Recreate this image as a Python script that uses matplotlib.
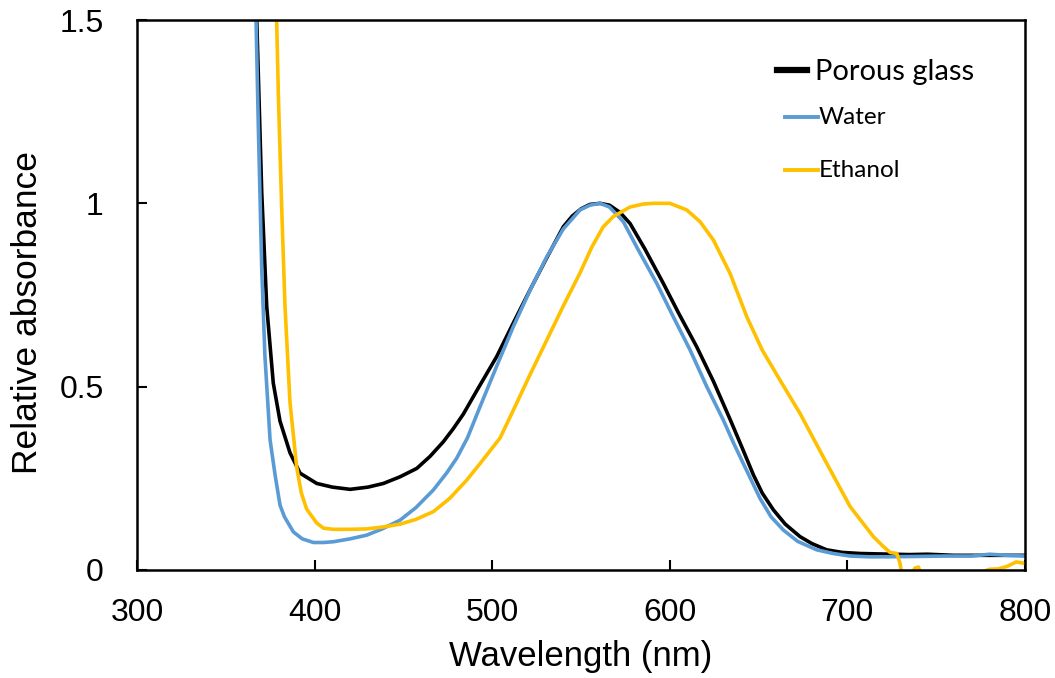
import matplotlib
matplotlib.use("Agg")
from matplotlib import pyplot as plt
from matplotlib.lines import Line2D

# Porous glass (black)
glass_nm = [366, 367.4, 370.2, 373, 376.7, 380.5, 386.1, 391.8, 401.2, 410, 420, 430,
            438.7, 448, 457.5, 465, 472.5, 478, 483.7, 492, 502.5, 512, 521.3, 530, 540,
            545, 550, 555, 560.7, 566, 572, 577.6, 586, 596.3, 605, 615.1, 624.5, 634,
            641, 647, 652, 658.3, 665, 673.3, 680, 688.3, 697, 707.1, 716, 725.7,
            735, 745, 760, 780, 800]
glass_abs = [1.6, 1.5, 1.03, 0.72, 0.51, 0.406, 0.32, 0.264, 0.236, 0.226, 0.220, 0.226,
             0.236, 0.254, 0.277, 0.31, 0.35, 0.385, 0.425, 0.495, 0.582, 0.675, 0.764, 0.845,
             0.936, 0.965, 0.985, 0.997, 1.0, 0.995, 0.975, 0.945, 0.875, 0.782, 0.70, 0.609,
             0.515, 0.41, 0.33, 0.26, 0.21, 0.164, 0.125, 0.091, 0.072, 0.055, 0.048, 0.045,
             0.044, 0.043, 0.042, 0.043, 0.040, 0.040, 0.040]

# Water (blue)
water_nm = [366, 367, 368.3, 370.2, 372, 374.9, 377.7, 380.5, 383, 388, 393, 399.3, 405,
            410.5, 420, 429.3, 438, 448.1, 457, 466.8, 474.4, 480, 486, 493.1, 502, 511.9,
            521, 530.7, 540, 549.4, 555, 560.7, 566, 573.8, 582, 592.6, 602, 611.4, 620.8,
            630.1, 636, 641.4, 650.8, 657, 663.9, 672, 682.7, 692, 701.5, 712, 722.1, 740,
            755, 770, 780, 790, 800]
water_abs = [1.6, 1.5, 1.208, 0.824, 0.584, 0.355, 0.26, 0.177, 0.145, 0.104, 0.085, 0.075,
             0.075, 0.077, 0.085, 0.095, 0.112, 0.136, 0.17, 0.218, 0.265, 0.305, 0.36, 0.445,
             0.55, 0.664, 0.76, 0.854, 0.93, 0.982, 0.995, 1.0, 0.99, 0.95, 0.875, 0.782,
             0.69, 0.60, 0.50, 0.409, 0.345, 0.29, 0.195, 0.145, 0.109, 0.078, 0.055, 0.045,
             0.038, 0.036, 0.036, 0.037, 0.038, 0.038, 0.043, 0.04, 0.038]

# Ethanol (orange)
ethanol_nm = [377, 378.6, 379.6, 381.5, 383.3, 386.1, 389.9, 392.5, 395.5, 401.2, 405, 410.5,
              420, 429.3, 438, 448.1, 457, 466.8, 476, 485.6, 493.1, 504.4, 511.9, 521,
              530.7, 540, 549.4, 556, 562.5, 568.2, 577.6, 585, 590.7, 600, 609.5, 617,
              624.5, 633.9, 643.3, 652, 662, 673.3, 688.3, 701.5, 714.6, 720, 724, 727.8,
              729.5, 731, 735, 738, 740, 742, 750, 760, 770, 776, 780, 785, 790, 795, 800]
ethanol_abs = [1.6, 1.5, 1.29, 0.98, 0.72, 0.458, 0.28, 0.21, 0.166, 0.128, 0.114, 0.111,
               0.111, 0.112, 0.117, 0.125, 0.138, 0.159, 0.195, 0.245, 0.29, 0.36, 0.436, 0.53,
               0.627, 0.72, 0.81, 0.88, 0.936, 0.964, 0.99, 0.998, 1.0, 1.0, 0.982, 0.95,
               0.90, 0.809, 0.691, 0.60, 0.518, 0.427, 0.291, 0.173, 0.091, 0.065, 0.048, 0.045,
               0.02, -0.02, -0.02, 0.005, 0.008, -0.02, -0.03, -0.03, -0.03, -0.005, 0.002,
               0.003, 0.01, 0.022, 0.018]

x_ticks = [300, 400, 500, 600, 700, 800]
y_ticks = [0, 0.5, 1, 1.5]
y_tick_labels = ["0", "0.5", "1", "1.5"]

black = "#000000"
blue = "#5B9BD5"
orange = "#FFC000"

plt.rcParams['font.family'] = ['Liberation Sans', 'DejaVu Sans']

fig = plt.figure(figsize=(10.55, 6.78), dpi=100)
ax = fig.add_axes([0.1299, 0.1593, 0.8417, 0.8112])

ax.plot(glass_nm, glass_abs, color=black, lw=2.6)
ax.plot(water_nm, water_abs, color=blue, lw=2.6)
ax.plot(ethanol_nm, ethanol_abs, color=orange, lw=2.6)

ax.set_xlim(300, 800)
ax.set_ylim(0, 1.5)
ax.set_xticks(x_ticks)
ax.set_yticks(y_ticks)
ax.set_yticklabels(y_tick_labels)
ax.tick_params(direction='in', length=7, width=1.5, labelsize=23, colors='black')
ax.tick_params(axis='x', pad=20)
ax.tick_params(axis='y', pad=24)
for s in ax.spines.values():
    s.set_linewidth(1.8)

ax.set_xlabel("Wavelength (nm)", fontsize=25, labelpad=9)
ax.set_ylabel("Relative absorbance", fontsize=25.5)
ax.yaxis.set_label_coords(-0.105, 0.469)

# legend drawn by hand (entries have different sizes in the original)
leg_font = ['Lato', 'DejaVu Sans']
ax.add_line(Line2D([0.721, 0.755], [0.909, 0.909], transform=ax.transAxes,
                   color=black, lw=4.5))
ax.text(0.7635, 0.906, "Porous glass", transform=ax.transAxes, fontsize=21,
        family=leg_font, va='center', ha='left')
ax.add_line(Line2D([0.730, 0.767], [0.8236, 0.8236], transform=ax.transAxes,
                   color=blue, lw=2.8))
ax.text(0.768, 0.8236, "Water", transform=ax.transAxes, fontsize=17.5,
        family=leg_font, va='center', ha='left')
ax.add_line(Line2D([0.730, 0.767], [0.727, 0.727], transform=ax.transAxes,
                   color=orange, lw=2.8))
ax.text(0.768, 0.727, "Ethanol", transform=ax.transAxes, fontsize=17.5,
        family=leg_font, va='center', ha='left')

plt.savefig("out.png", dpi=100)
